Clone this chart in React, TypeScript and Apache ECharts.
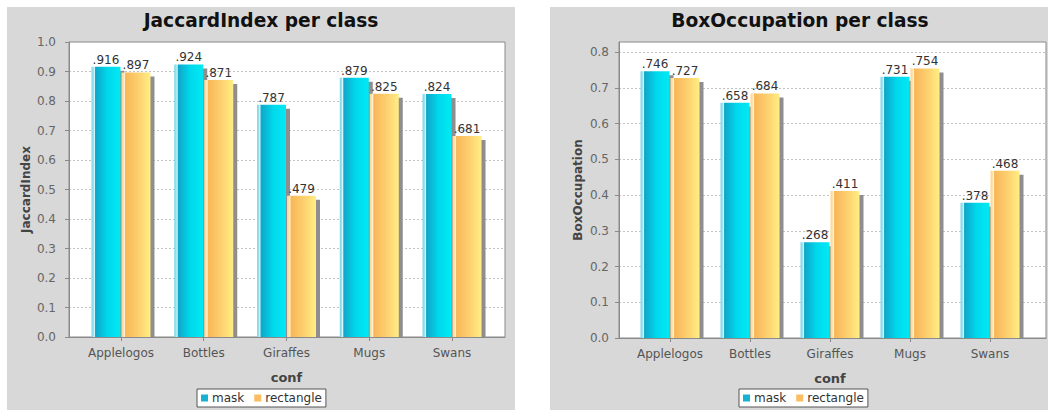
import React, { useEffect, useRef } from "react";
import * as echarts from "echarts";

// Categories and per-class scores
const categories = ["Applelogos", "Bottles", "Giraffes", "Mugs", "Swans"];
const jaccardMask = [0.916, 0.924, 0.787, 0.879, 0.824];
const jaccardRect = [0.897, 0.871, 0.479, 0.825, 0.681];
const boxMask = [0.746, 0.658, 0.268, 0.731, 0.378];
const boxRect = [0.727, 0.684, 0.411, 0.754, 0.468];
const seriesNames = ["mask", "rectangle"];

const FONT = "DejaVu Sans";
const BAR_W = 29;
const SHADOW = 4;

const maskGradient = () =>
  new echarts.graphic.LinearGradient(0, 0, 1, 0, [
    { offset: 0, color: "#79d6ea" },
    { offset: 0.07, color: "#9fe4f0" },
    { offset: 0.1, color: "#e6fafd" },
    { offset: 0.14, color: "#10a6c8" },
    { offset: 0.55, color: "#00d8ec" },
    { offset: 1, color: "#00eaf4" },
  ]);

const rectGradient = () =>
  new echarts.graphic.LinearGradient(0, 0, 1, 0, [
    { offset: 0, color: "#fbd58f" },
    { offset: 0.07, color: "#fde2ae" },
    { offset: 0.1, color: "#fff6dc" },
    { offset: 0.14, color: "#f8b658" },
    { offset: 0.6, color: "#fdd170" },
    { offset: 1, color: "#ffee84" },
  ]);

const fmt = (v: number) => v.toFixed(3).replace(/^0/, "");

// Grouped bar with a pegged drop shadow and a value label
const makeRender = (side: number, fill: () => any) => (params: any, api: any) => {
  const cat = api.value(0);
  const val = api.value(1);
  const top = api.coord([cat, val]);
  const base = api.coord([cat, 0]);
  const cx = top[0];
  const x = side < 0 ? cx - 0.5 - BAR_W : cx + 0.5;
  const y = top[1];
  const h = base[1] - y;
  return {
    type: "group",
    children: [
      {
        type: "rect",
        shape: { x: x + SHADOW, y: y + SHADOW, width: BAR_W, height: Math.max(h - SHADOW, 0) },
        style: { fill: "#8e8e8e" },
      },
      {
        type: "rect",
        shape: { x, y, width: BAR_W, height: h },
        style: { fill: fill() },
      },
      {
        type: "text",
        x: x + BAR_W / 2,
        y: y - 1,
        style: {
          text: fmt(val),
          textAlign: "center",
          textVerticalAlign: "bottom",
          font: `12px "${FONT}"`,
          fill: "#333",
        },
        z2: 10,
      },
    ],
  };
};

type Panel = {
  plot: { left: number; top: number; width: number; height: number };
  band: { left: number; width: number };
  max: number;
  yName: string;
  yNameGap: number;
  labelMargin: number;
  mask: number[];
  rect: number[];
};

const panels: Panel[] = [
  {
    plot: { left: 69, top: 42, width: 436, height: 295 },
    band: { left: 79.6, width: 413.8 },
    max: 1.0,
    yName: "JaccardIndex",
    yNameGap: 34,
    labelMargin: 10,
    mask: jaccardMask,
    rect: jaccardRect,
  },
  {
    plot: { left: 619, top: 42, width: 427, height: 296 },
    band: { left: 630, width: 400 },
    max: 0.828,
    yName: "BoxOccupation",
    yNameGap: 32,
    labelMargin: 7,
    mask: boxMask,
    rect: boxRect,
  },
];

const titles = [
  { text: "JaccardIndex per class", x: 261 },
  { text: "BoxOccupation per class", x: 800 },
];
const legendLefts = [197, 739];

function buildOption() {
  const grid: any[] = [];
  const xAxis: any[] = [];
  const yAxis: any[] = [];
  const series: any[] = [];
  const legend: any[] = [];

  panels.forEach((p, i) => {
    const gPlot = i * 2;
    const gBars = i * 2 + 1;
    grid.push({
      left: p.plot.left,
      top: p.plot.top,
      width: p.plot.width,
      height: p.plot.height,
      show: true,
      backgroundColor: "#ffffff",
      borderColor: "#8a8a8a",
      borderWidth: 1,
    });
    grid.push({
      left: p.band.left,
      top: p.plot.top,
      width: p.band.width,
      height: p.plot.height,
      show: false,
    });

    xAxis.push({
      type: "value",
      gridIndex: gPlot,
      min: 0,
      max: 1,
      offset: 3,
      axisLine: { show: true, lineStyle: { color: "#8a8a8a", width: 1 } },
      axisTick: { show: false },
      axisLabel: { show: false },
      splitLine: { show: false },
    });
    xAxis.push({
      type: "category",
      gridIndex: gBars,
      data: categories,
      offset: 3,
      axisLine: { show: false },
      axisTick: {
        show: true,
        alignWithLabel: true,
        interval: 0,
        length: 4,
        lineStyle: { color: "#8a8a8a" },
      },
      axisLabel: {
        fontFamily: FONT,
        fontSize: 12,
        color: "#555",
        margin: 7,
        interval: 0,
        hideOverlap: false,
      },
      name: "conf",
      nameLocation: "middle",
      nameGap: 31,
      nameTextStyle: { fontFamily: FONT, fontSize: 13, fontWeight: "bold", color: "#444" },
    });

    yAxis.push({
      type: "value",
      gridIndex: gPlot,
      min: 0,
      max: p.max,
      interval: 0.1,
      offset: 3,
      axisLine: { show: true, lineStyle: { color: "#8a8a8a", width: 1 } },
      axisTick: { show: true, length: 4, lineStyle: { color: "#8a8a8a" } },
      axisLabel: {
        fontFamily: FONT,
        fontSize: 12,
        color: "#666",
        margin: p.labelMargin,
        showMaxLabel: p.max === 1.0,
        formatter: (v: number) => v.toFixed(1),
      },
      splitLine: {
        show: true,
        lineStyle: { color: "#c2c2c2", type: [2, 2], width: 1 },
      },
      name: p.yName,
      nameLocation: "middle",
      nameRotate: 90,
      nameGap: p.yNameGap,
      nameTextStyle: { fontFamily: FONT, fontSize: 12, fontWeight: "bold", color: "#444" },
    });
    yAxis.push({
      type: "value",
      gridIndex: gBars,
      min: 0,
      max: p.max,
      show: false,
      splitLine: { show: false },
    });

    const data = (vals: number[]) => vals.map((v, k) => [k, v]);
    series.push({
      type: "custom",
      name: seriesNames[0],
      xAxisIndex: gBars,
      yAxisIndex: gBars,
      data: data(p.mask),
      encode: { x: 0, y: 1 },
      clip: true,
      itemStyle: { color: "#17b2d2" },
      renderItem: makeRender(-1, maskGradient),
    });
    series.push({
      type: "custom",
      name: seriesNames[1],
      xAxisIndex: gBars,
      yAxisIndex: gBars,
      data: data(p.rect),
      encode: { x: 0, y: 1 },
      clip: true,
      itemStyle: { color: "#fbbd62" },
      renderItem: makeRender(1, rectGradient),
    });

    legend.push({
      left: legendLefts[i],
      top: 389,
      data: seriesNames,
      icon: "rect",
      itemWidth: 7,
      itemHeight: 7,
      itemGap: 10,
      padding: [3, 4, 3, 4],
      backgroundColor: "#ffffff",
      borderColor: "#555",
      borderWidth: 1,
      borderRadius: 0,
      selectedMode: false,
      textStyle: { fontFamily: FONT, fontSize: 12, color: "#333", padding: [0, 0, 0, -1] },
    });
  });

  const graphic: any[] = [
    { type: "rect", z: -10, shape: { x: 7, y: 7, width: 508, height: 410 }, style: { fill: "#d8d8d8" } },
    { type: "rect", z: -10, shape: { x: 550, y: 7, width: 510, height: 410 }, style: { fill: "#d8d8d8" } },
    ...titles.map((t) => ({
      type: "text",
      x: t.x,
      y: 20,
      z: 10,
      style: {
        text: t.text,
        textAlign: "center",
        textVerticalAlign: "middle",
        font: `bold 18.6px "${FONT}"`,
        fill: "#111",
      },
    })),
  ];

  return {
    animation: false,
    backgroundColor: "#ffffff",
    grid,
    xAxis,
    yAxis,
    series,
    legend,
    graphic,
  };
}

export default function App() {
  const ref = useRef<HTMLDivElement>(null);
  useEffect(() => {
    if (!ref.current) return;
    const chart = echarts.init(ref.current, null, { renderer: "svg" });
    chart.setOption(buildOption() as any);
    return () => chart.dispose();
  }, []);
  return (
    <div
      ref={ref}
      style={{ position: "fixed", left: 0, top: 0, width: 1048, height: 410 }}
    />
  );
}
